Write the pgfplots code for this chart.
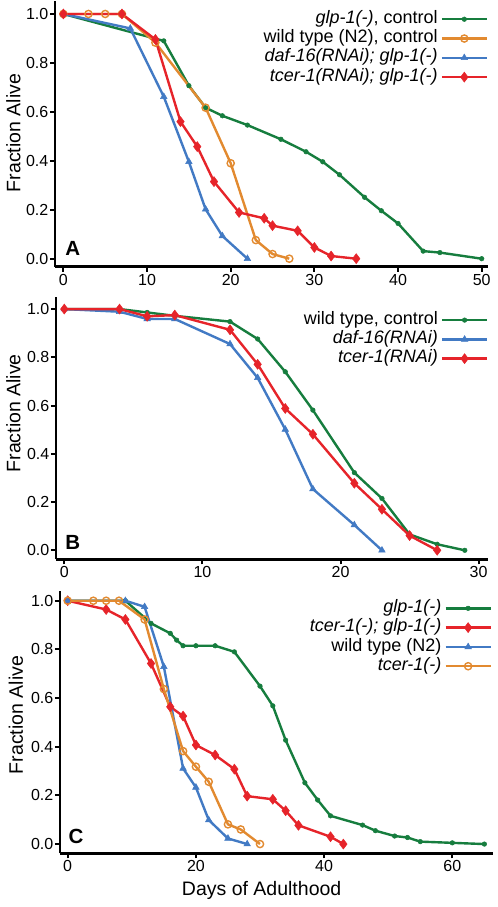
\documentclass[border=0pt]{standalone}
\usepackage{fontspec}
\setmainfont{Liberation Sans}
\usepackage{pgfplots}
\pgfplotsset{compat=1.18}
\definecolor{cgreen}{RGB}{22,125,62}
\definecolor{corange}{RGB}{226,138,48}
\definecolor{cblue}{RGB}{66,122,196}
\definecolor{cred}{RGB}{230,36,42}
\newcommand{\tickfont}{\fontsize{16bp}{18bp}\selectfont}
\newcommand{\legfont}{\fontsize{18bp}{20bp}\selectfont}
\newcommand{\labfont}{\fontsize{19.5bp}{22bp}\selectfont}
\newcommand{\letfont}{\fontsize{20.5bp}{23bp}\selectfont\bfseries}
\pgfplotsset{
  surv/.style={
    scale only axis,
    axis x line=bottom, axis y line=left,
    axis line style={-, line width=2.6bp, black},
    tick align=outside,
    major tick length=5bp,
    every tick/.style={line width=2bp, black},
    tick label style={font=\tickfont},
    /pgf/number format/assume math mode=true,
    ytick={0,0.2,0.4,0.6,0.8,1.0},
    yticklabel style={/pgf/number format/fixed, /pgf/number format/precision=1, /pgf/number format/fixed zerofill, inner sep=1.5bp},
    xticklabel style={inner sep=2bp},
    clip=false,
    legend plot pos=right,
    legend cell align=right,
    legend image code/.code={
      \draw[mark repeat=2,mark phase=2,##1] plot coordinates {(0bp,0bp) (22.5bp,0bp) (45bp,0bp)};
    },
    legend style={draw=none, fill=none, anchor=north east, inner sep=0pt, outer sep=0pt,
      row sep=2.5bp, column sep=3bp, font=\legfont,
      nodes={inner sep=0pt, text height=12.5bp, text depth=4.3bp}},
  },
  sg/.style={cgreen, line width=2.4bp, mark=*, mark size=2.3bp, mark options={fill=cgreen, line width=0.5bp}},
  so/.style={corange, line width=2.4bp, mark=o, mark size=3.6bp, mark options={line width=1.4bp}},
  sb/.style={cblue, line width=2.4bp, mark=triangle*, mark size=3.8bp, mark options={fill=cblue, line width=0.5bp}},
  sr/.style={cred, line width=2.4bp, mark=diamond*, mark size=5bp, mark options={fill=cred, line width=0.5bp}},
}
\begin{document}
\begin{tikzpicture}
\useasboundingbox (0,0) rectangle (498bp,-907bp);
% ---------------- Panel A
\begin{axis}[surv,
  at={(55bp,-266.7bp)}, anchor=south west,
  width=433bp, height=265.7bp,
  xmin=-1, xmax=50.75, ymin=-0.0327, ymax=1.053,
  xtick={0,10,20,30,40,50},
  legend style={at={(axis description cs:1,0.963)}},
]
\addplot[sg] coordinates {(0,1) (12,0.89) (15,0.707) (17,0.617) (19,0.584) (22,0.546) (26,0.488) (29,0.437) (31,0.396) (33,0.343) (36,0.251) (38,0.196) (40,0.144) (43,0.031) (45,0.025) (50,0)};
\addlegendentry{\textit{glp-1(-)}, control}
\addplot[so] coordinates {(0,1) (3,1) (5,1) (7,1) (11,0.883) (17,0.617) (20,0.39) (23,0.076) (25,0.019) (27,0)};
\addlegendentry{wild type (N2), control}
\addplot[sb] coordinates {(0,1) (8,0.941) (12,0.662) (15,0.396) (17,0.202) (19,0.093) (22,0)};
\addlegendentry{\textit{daf-16(RNAi); glp-1(-)}}
\addplot[sr] coordinates {(0,1) (7,1) (11,0.896) (14,0.56) (16,0.458) (18,0.315) (21,0.189) (24,0.165) (25,0.135) (28,0.114) (30,0.046) (32,0.011) (35,0)};
\addlegendentry{\textit{tcer-1(RNAi); glp-1(-)}}
\node[font=\labfont, rotate=90, anchor=center] at (axis description cs:-0.0963,0.503) {Fraction Alive};
\node[font=\letfont, anchor=center] at (axis description cs:0.0411,0.07) {A};
\end{axis}
% ---------------- Panel B
\begin{axis}[surv,
  at={(56bp,-559.3bp)}, anchor=south west,
  width=432.3bp, height=262.3bp,
  xmin=-0.6, xmax=30.7, ymin=-0.0373, ymax=1.05,
  xtick={0,10,20,30},
  legend style={at={(axis description cs:1,0.944)}},
]
\addplot[sg] coordinates {(0,1) (4,1) (6,0.986) (8,0.972) (12,0.948) (14,0.876) (16,0.74) (18,0.581) (21,0.322) (23,0.215) (25,0.066) (27,0.025) (29,0)};
\addlegendentry{wild type, control}
\addplot[sb] coordinates {(0,1) (4,0.989) (6,0.959) (8,0.959) (12,0.855) (14,0.715) (16,0.501) (18,0.254) (21,0.105) (23,0)};
\addlegendentry{\textit{daf-16(RNAi)}}
\addplot[sr] coordinates {(0,1) (4,1) (6,0.97) (8,0.975) (12,0.914) (14,0.771) (16,0.588) (18,0.481) (21,0.278) (23,0.17) (25,0.061) (27,0)};
\addlegendentry{\textit{tcer-1(RNAi)}}
\node[font=\labfont, rotate=90, anchor=center] at (axis description cs:-0.0986,0.557) {Fraction Alive};
\node[font=\letfont, anchor=center] at (axis description cs:0.0387,0.0648) {B};
\end{axis}
% ---------------- Panel C
\begin{axis}[surv,
  at={(60bp,-853.3bp)}, anchor=south west,
  width=432.7bp, height=262.3bp,
  xmin=-1.2, xmax=66.3, ymin=-0.038, ymax=1.04,
  xtick={0,20,40,60},
  legend style={at={(axis description cs:0.998,0.966)}},
]
\addplot[sg] coordinates {(0,1) (9,1) (13,0.907) (16,0.866) (17,0.838) (18,0.815) (20,0.815) (23,0.815) (26,0.79) (30,0.649) (32,0.568) (34,0.427) (37,0.252) (39,0.181) (41,0.116) (46,0.078) (48,0.055) (51,0.033) (53,0.027) (55,0.01) (60,0.005) (65,0)};
\addlegendentry{\textit{glp-1(-)}}
\addplot[sr] coordinates {(0,1) (6,0.964) (9,0.923) (13,0.742) (16,0.564) (18,0.526) (20,0.407) (23,0.366) (26,0.308) (28,0.197) (32,0.184) (34,0.137) (36,0.077) (41,0.03) (43,0)};
\addlegendentry{\textit{tcer-1(-); glp-1(-)}}
\addplot[sb] coordinates {(0,1) (9,1) (12,0.975) (15,0.729) (18,0.311) (20,0.233) (22,0.099) (25,0.023) (28,0)};
\addlegendentry{wild type (N2)}
\addplot[so] coordinates {(0,1) (4,1) (6,1) (8,1) (12,0.923) (15,0.637) (18,0.382) (20,0.318) (22,0.256) (25,0.081) (27,0.06) (30,0)};
\addlegendentry{\textit{tcer-1(-)}}
\node[font=\labfont, rotate=90, anchor=center] at (axis description cs:-0.102,0.527) {Fraction Alive};
\node[font=\labfont, anchor=center] at (axis description cs:0.466,-0.14) {Days of Adulthood};
\node[font=\letfont, anchor=center] at (axis description cs:0.0370,0.0633) {C};
\end{axis}
\end{tikzpicture}
\end{document}
